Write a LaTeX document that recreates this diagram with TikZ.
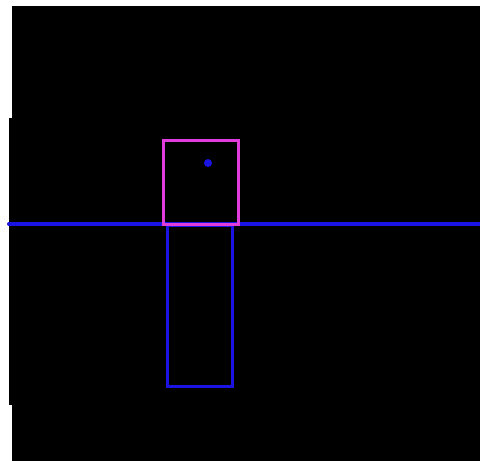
\documentclass[tikz,border=0pt]{standalone}
\begin{document}
\begin{tikzpicture}[x=1pt,y=-1pt,
  bg/.style={fill=black},
  magbox/.style={draw=magcol,line width=3pt},
  bluebox/.style={draw=bluecol,line width=3pt},
  bluerule/.style={draw=bluecol,line width=4pt},
  bluedot/.style={fill=bluecol}]
\definecolor{magcol}{RGB}{225,60,220}
\definecolor{bluecol}{RGB}{25,20,225}
\useasboundingbox (0,0) rectangle (480,461);
\fill[white] (0,0) rectangle (480,461);
\fill[bg] (12,6) rectangle (480,461);
\fill[bg] (9,118) rectangle (12,405);
\fill[white] (437,0) rectangle (480,5);
\coordinate (L) at (9,224);
\coordinate (R) at (480,224);
\draw[bluebox] (167,225) rectangle (232,386);
\draw[bluerule, line cap=round] (L) -- (R);
\draw[magbox] (163,140) rectangle (238,224);
\fill[bluedot] (208,163) circle (4);
\end{tikzpicture}
\end{document}
